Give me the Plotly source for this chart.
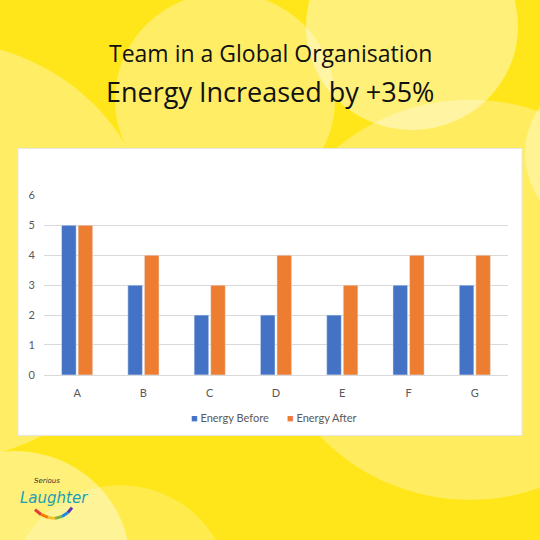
import plotly.graph_objects as go

categories = ["A", "B", "C", "D", "E", "F", "G"]
energy_before = [5, 3, 2, 2, 2, 3, 3]
energy_after = [5, 4, 3, 4, 3, 4, 4]
y_ticks = [0, 1, 2, 3, 4, 5, 6]
series_names = ["Energy Before", "Energy After"]
series_colors = ["#4472C4", "#ED7D31"]

W = H = 540

def px(x):
    return x / W

def py(y):
    return 1 - y / H

fig = go.Figure()
fig.add_trace(go.Bar(name=series_names[0], x=categories, y=energy_before,
                     marker_color=series_colors[0]))
fig.add_trace(go.Bar(name=series_names[1], x=categories, y=energy_after,
                     marker_color=series_colors[1]))

shapes = []
# background bokeh circles
circles = [
    (-60, 250, 215, "rgba(255,255,255,0.33)"),
    (225, 95, 110, "rgba(255,255,255,0.33)"),
    (412, 20, 106, "rgba(255,255,255,0.42)"),
    (610, 150, 85, "rgba(255,255,255,0.33)"),
    (470, 300, 205, "rgba(255,255,255,0.30)"),
    (15, 570, 115, "rgba(255,255,255,0.42)"),
    (120, 600, 110, "rgba(255,255,255,0.22)"),
]
for cx, cy, r, col in circles:
    shapes.append(dict(type="circle", xref="paper", yref="paper",
                       x0=px(cx - r), x1=px(cx + r), y0=py(cy + r), y1=py(cy - r),
                       fillcolor=col, line_width=0, layer="below"))
# white chart box
shapes.append(dict(type="rect", xref="paper", yref="paper",
                   x0=px(18), x1=px(522), y0=py(439), y1=py(145),
                   fillcolor="white", line=dict(color="#e6e6e6", width=1), layer="below"))
# rainbow smile of logo
smile_cols = ["#e53935", "#f57c00", "#fbc02d", "#7cb342", "#1e88e5", "#5e35b1"]
pts = [(35, 515), (41, 520), (48, 523), (55, 524), (62, 522), (68, 518), (72, 513)]
for i in range(len(pts) - 1):
    (x0, y0), (x1, y1) = pts[i], pts[i + 1]
    shapes.append(dict(type="line", xref="paper", yref="paper",
                       x0=px(x0), y0=py(y0), x1=px(x1), y1=py(y1),
                       line=dict(color=smile_cols[i], width=3)))

annotations = [
    dict(text="Team in a Global Organisation", x=0.5, y=py(47), xref="paper", yref="paper",
         showarrow=False, font=dict(family="Open Sans", size=23, color="#111111"),
         xanchor="center", yanchor="middle"),
    dict(text="Energy Increased by +35%", x=0.5, y=py(87), xref="paper", yref="paper",
         showarrow=False, font=dict(family="Open Sans", size=27, color="#111111"),
         xanchor="center", yanchor="middle"),
    dict(text="<i>Serious</i>", x=px(47), y=py(486), xref="paper", yref="paper",
         showarrow=False, font=dict(family="DejaVu Sans", size=7, color="#333333"),
         xanchor="center", yanchor="middle"),
    dict(text="<i>Laughter</i>", x=px(54), y=py(503), xref="paper", yref="paper",
         showarrow=False, font=dict(family="DejaVu Sans", size=15, color="#1a9fb5"),
         xanchor="center", yanchor="middle"),
    # compact legend (Excel style)
    dict(text=f"<span style='color:{series_colors[0]}'>■</span> {series_names[0]}",
         x=px(189), y=py(421), xref="paper", yref="paper", showarrow=False,
         font=dict(family="Lato", size=11, color="#595959"),
         xanchor="left", yanchor="middle"),
    dict(text=f"<span style='color:{series_colors[1]}'>■</span> {series_names[1]}",
         x=px(285), y=py(421), xref="paper", yref="paper", showarrow=False,
         font=dict(family="Lato", size=11, color="#595959"),
         xanchor="left", yanchor="middle"),
]

fig.update_layout(
    width=W, height=H,
    margin=dict(l=0, r=0, t=0, b=0),
    paper_bgcolor="#FFE61A",
    plot_bgcolor="rgba(0,0,0,0)",
    barmode="group",
    bargap=0.5,
    bargroupgap=0.12,
    shapes=shapes,
    annotations=annotations,
    font=dict(family="Lato", color="#595959", size=11),
    showlegend=False,
    xaxis=dict(domain=[px(44), px(508)], showgrid=False, showline=True,
               linecolor="#d9d9d9", linewidth=1, ticks="",
               tickfont=dict(family="Lato", size=11, color="#595959"),
               ticklabelstandoff=8, fixedrange=True),
    yaxis=dict(domain=[py(377), py(193)], range=[0, 6], tickvals=y_ticks,
               showgrid=True, gridcolor="#d9d9d9", gridwidth=1, zeroline=False,
               ticks="", tickfont=dict(family="Lato", size=11, color="#595959"),
               ticklabelstandoff=8, fixedrange=True),
)

fig.write_html("out.html")
